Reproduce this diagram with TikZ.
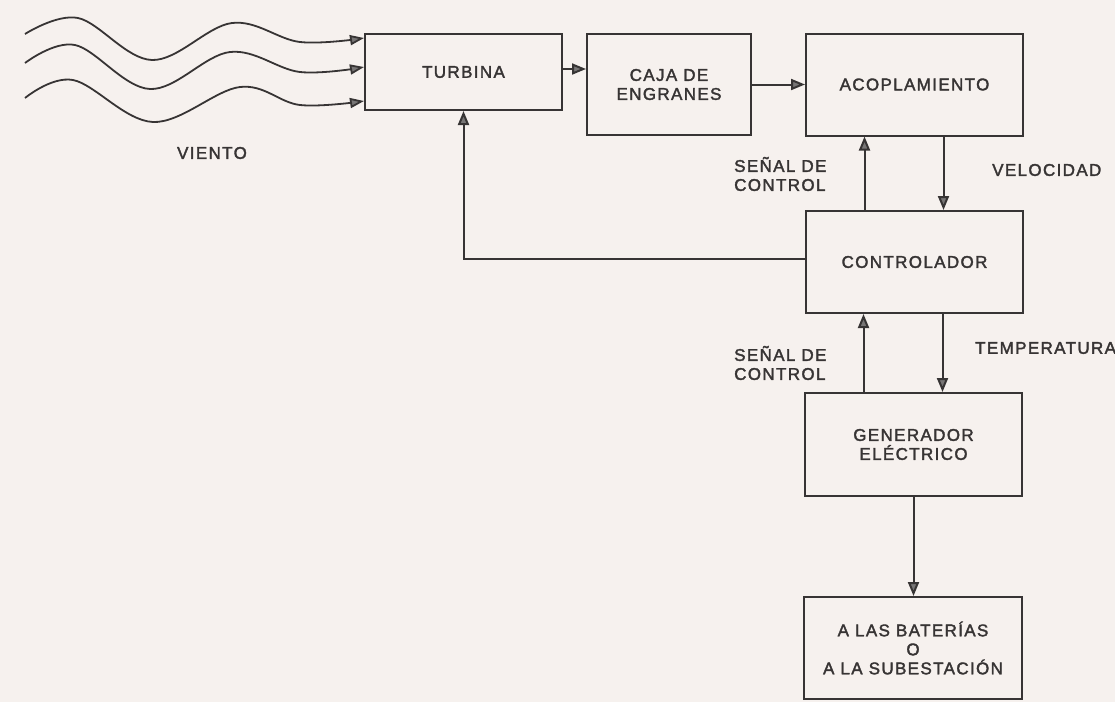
\documentclass[tikz,border=0pt]{standalone}
\usepackage{fontspec}
\setmainfont[LetterSpace=8,FakeBold=2]{Liberation Sans}
\usetikzlibrary{arrows.meta}
\definecolor{bg}{RGB}{246,241,238}
\definecolor{ink}{RGB}{55,52,52}
\definecolor{tipfill}{RGB}{120,118,118}
\tikzset{
  blk/.style={draw=ink, line width=2pt, inner sep=0pt, align=center, text=ink, font=\fontsize{17}{19}\selectfont},
  lbl/.style={inner sep=0pt, align=left, text=ink, font=\fontsize{17}{19}\selectfont},
  arr/.style={draw=ink, line width=2pt, -{Triangle[length=14pt,width=11pt,fill=tipfill]}},
  wave/.style={draw=ink, line width=1.8pt, -{Triangle[length=14pt,width=10pt,fill=tipfill]}}
}
\begin{document}
\begin{tikzpicture}[x=1pt,y=-1pt]
\fill[bg] (0,0) rectangle (1115,702);
\useasboundingbox (0,0) rectangle (1115,702);
% blocks
\node[blk, minimum width=197pt, minimum height=76pt] (turb) at (463.5,72) {TURBINA};
\node[blk, minimum width=164pt, minimum height=101pt] (caja) at (669,84.5) {CAJA DE\\ENGRANES};
\node[blk, minimum width=217pt, minimum height=102pt] (acop) at (914.5,84.5) {ACOPLAMIENTO};
\node[blk, minimum width=217pt, minimum height=102pt] (ctrl) at (914.5,262) {CONTROLADOR};
\node[blk, minimum width=217pt, minimum height=103pt] (gen) at (913.5,444.5) {GENERADOR\\ELÉCTRICO};
\node[blk, minimum width=218pt, minimum height=102pt] (bat) at (913,648) {A LAS BATERÍAS\\O\\A LA SUBESTACIÓN};
% labels
\node[lbl] (viento) at (212,153) {VIENTO};
\node[lbl, anchor=west] (sc1) at (734,174) {SEÑAL DE\\CONTROL};
\node[lbl, anchor=west] (vel) at (992,170) {VELOCIDAD};
\node[lbl, anchor=west] (sc2) at (734,363) {SEÑAL DE\\CONTROL};
\node[lbl, anchor=west] (temp) at (975,348) {TEMPERATURA};
% wind
\coordinate (w1) at (turb.west |- 0,38);
\coordinate (w2) at (turb.west |- 0,67);
\coordinate (w3) at (turb.west |- 0,101);
\draw[wave] plot[smooth, tension=0.6] coordinates {(25,34) (78,18) (152,60) (232,23) (300,42) (w1)};
\draw[wave] plot[smooth, tension=0.6] coordinates {(25,63) (75,45) (150,89) (230,52) (300,72) (w2)};
\draw[wave] plot[smooth, tension=0.6] coordinates {(25,98) (73,80) (153,122) (240,87) (300,105) (w3)};
% connectors
\draw[arr] ([yshift=3pt]turb.east) -- ([yshift=3pt]caja.west |- turb.east);
\draw[arr] (caja.east) -- (acop.west |- caja.east);
\draw[arr] ([xshift=29pt]acop.south) -- ([xshift=29pt]ctrl.north);
\draw[arr] ([xshift=-50pt]ctrl.north) -- ([xshift=-50pt]acop.south);
\draw[arr] ([yshift=3pt]ctrl.west) -| (turb.south);
\draw[arr] ([xshift=28pt]ctrl.south) -- ([xshift=28pt]ctrl.south |- gen.north);
\draw[arr] ([xshift=-51pt]ctrl.south |- gen.north) -- ([xshift=-51pt]ctrl.south);
\draw[arr] (gen.south) -- (gen.south |- bat.north);
\end{tikzpicture}
\end{document}
